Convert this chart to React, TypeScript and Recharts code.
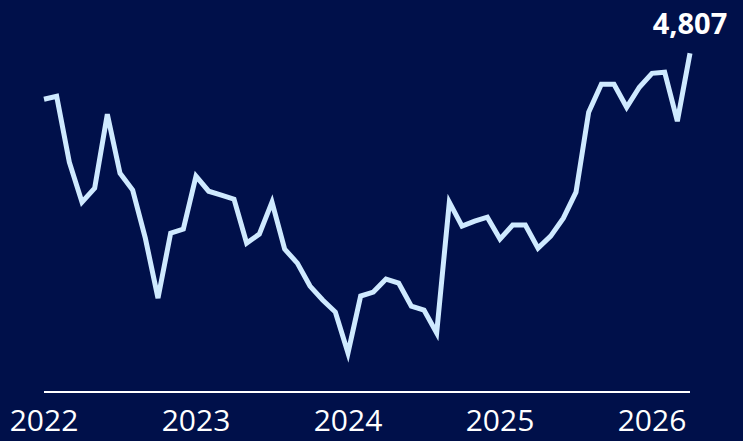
import { LineChart, Line, XAxis, YAxis } from "recharts";

// monthly values, Jan 2022 .. Apr 2026
const values = [
  4426, 4451, 3905, 3573, 3689, 4302, 3813, 3673, 3275, 2778, 3317, 3350,
  3789, 3664, 3631, 3598, 3234, 3308, 3573, 3184, 3068, 2878, 2762, 2663,
  2323, 2795, 2828, 2936, 2903, 2712, 2679, 2489, 3573, 3375, 3416, 3449,
  3267, 3383, 3383, 3192, 3292, 3441, 3656, 4319, 4550, 4550, 4360, 4526,
  4641, 4650, 4244, 4807,
];
const years = ["2022", "2023", "2024", "2025", "2026"];
const yearTicks = [0, 12, 24, 36, 48];

const data = values.map((v, i) => ({ month: i, value: v }));

const BG = "#00104a";
const LINE = "#cfeaff";
const FONT = "'Open Sans', sans-serif";

function EndLabel(props: any) {
  const { x, y, index, value } = props;
  if (index !== values.length - 1) return null;
  return (
    <text
      x={x}
      y={y - 19}
      textAnchor="middle"
      fill="#ffffff"
      fontFamily={FONT}
      fontSize={29}
      fontWeight={700}
    >
      {Number(value).toLocaleString("en-US")}
    </text>
  );
}

export default function App() {
  return (
    <div
      style={{
        position: "fixed",
        left: 0,
        top: 0,
        width: 743,
        height: 441,
        background: BG,
      }}
    >
      <LineChart
        width={743}
        height={441}
        data={data}
        margin={{ top: 30, right: 53, bottom: 0, left: 44 }}
      >
        <XAxis
          dataKey="month"
          type="number"
          domain={[0, values.length - 1]}
          ticks={yearTicks}
          interval={0}
          height={49}
          tickLine={false}
          tickMargin={12}
          axisLine={{ stroke: "#ffffff", strokeWidth: 2 }}
          tickFormatter={(v: number) => years[yearTicks.indexOf(v)] ?? ""}
          tick={{ fill: "#ffffff", fontSize: 30, fontFamily: FONT }}
        />
        <YAxis hide domain={[2000, 5000]} />
        <Line
          type="linear"
          dataKey="value"
          stroke={LINE}
          strokeWidth={5}
          dot={false}
          isAnimationActive={false}
          label={<EndLabel />}
        />
      </LineChart>
    </div>
  );
}
